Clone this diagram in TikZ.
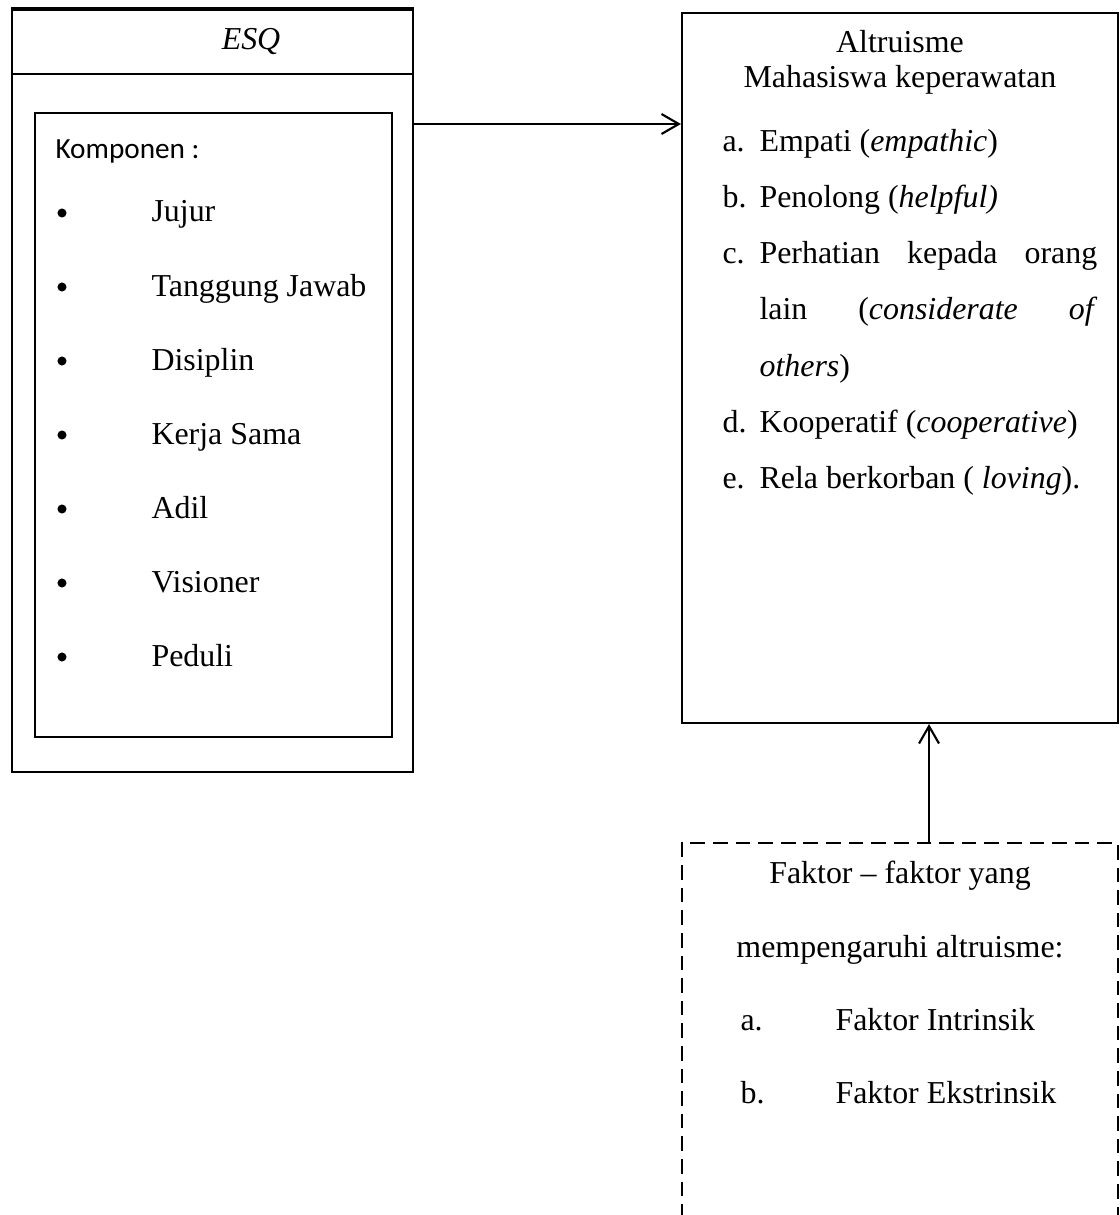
\documentclass[tikz,border=0pt]{standalone}
\usepackage{fontspec}
\setmainfont{Liberation Serif}
\newfontfamily\komfont{Carlito}
\usetikzlibrary{arrows.meta,positioning,calc,fit}

\tikzset{
  boxline/.style={draw=black,line width=0.8pt,inner sep=0pt},
  dashbox/.style={draw=black,line width=0.8pt,inner sep=0pt,dash pattern=on 5.5pt off 3pt},
  linkarrow/.style={line width=0.8pt,-{Straight Barb[length=6.5pt,width=7.5pt]}},
  txt/.style={anchor=base west,inner sep=0pt,font=\fontsize{12}{14}\selectfont},
  ctxt/.style={txt,anchor=base},
  bulletdot/.style={circle,fill=black,inner sep=0pt,minimum size=3.4pt},
}

\begin{document}
\begin{tikzpicture}[x=0.376pt,y=-0.376pt]
        \useasboundingbox (0,0) rectangle (1120,1215);
        \clip (0,0) rectangle (1120,1215);

        % boxes
        \node[boxline,fit={(12,10) (413,772)}] (esq) {};
        \node[boxline,fit={(35,113) (392,737)}] (komp) {};
        \node[boxline,fit={(682,13) (1118,723)}] (altr) {};
        \node[dashbox,fit={(682,843) (1118,1260)}] (faktor) {};
        \coordinate (hdr) at (0,74);
        \draw[line width=1.5pt] (esq.north west) -- (esq.north east);
        \draw[line width=0.8pt] (esq.west |- hdr) -- (esq.east |- hdr);

        % ESQ
        \node[ctxt] (esqtitle) at (251,50) {\textit{ESQ}};
        \node[txt,font=\komfont\fontsize{11}{13}\selectfont] (komptitle) at (55,159) {Komponen :};
        \foreach \val [count=\i] in {Jujur,Tanggung Jawab,Disiplin,Kerja Sama,Adil,Visioner,Peduli} {
          \node[txt] (val\i) at (151,{222+74*(\i-1)}) {\val};
          \node[bulletdot] (dot\i) at (62,{213+74*(\i-1)}) {};
        }

        % altruisme
        \node[ctxt] (altrtitle) at (900,53) {Altruisme};
        \node[ctxt] (altrsub) at (900,88) {Mahasiswa keperawatan};
        \node[txt] (la) at (722,152) {a.};
        \node[txt] (ia) at (759,152) {Empati (\textit{empathic})};
        \node[txt] (lb) at (722,208) {b.};
        \node[txt] (ib) at (759,208) {Penolong (\textit{helpful)}};
        \node[txt] (lc) at (722,264) {c.};
        \node[txt] (ic) at (759,264) {\makebox[127pt][s]{Perhatian\hfill kepada\hfill orang}};
        \node[txt] (ic2) at (759,320) {\makebox[127pt][s]{lain\hfill(\textit{considerate}\hfill\textit{of}}};
        \node[txt] (ic3) at (759,376) {\textit{others})};
        \node[txt] (ld) at (722,432) {d.};
        \node[txt] (id) at (759,432) {Kooperatif (\textit{cooperative})};
        \node[txt] (le) at (722,488) {e.};
        \node[txt] (ie) at (759,488) {Rela berkorban ( \textit{loving}).};

        % faktor
        \node[ctxt] (faktitle) at (900,883) {Faktor -- faktor yang};
        \node[ctxt] (faksub) at (900,957) {mempengaruhi altruisme:};
        \node[txt] (fa) at (740,1030) {a.};
        \node[txt] (fia) at (835,1030) {Faktor Intrinsik};
        \node[txt] (fb) at (740,1103) {b.};
        \node[txt] (fib) at (835,1103) {Faktor Ekstrinsik};

        % links
        \coordinate (link) at (0,124);
        \coordinate (up) at (929,0);
        \draw[linkarrow] (esq.east |- link) -- (altr.west |- link);
        \draw[linkarrow] (faktor.north -| up) -- (altr.south -| up);
      \end{tikzpicture}
\end{document}
